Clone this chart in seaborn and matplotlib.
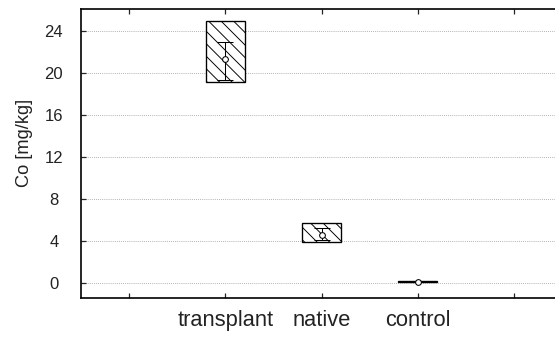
import matplotlib
matplotlib.use("Agg")
import matplotlib.pyplot as plt
import seaborn as sns
import pandas as pd

# box = range, whiskers + circle = mean and spread
groups = ["transplant", "native", "control"]
box_low = [19.1, 3.9, 0.05]
box_high = [25.0, 5.7, 0.15]
means = [21.3, 4.6, 0.1]
whisker_low = [19.3, 4.1, 0.08]
whisker_high = [23.0, 5.2, 0.12]
yticks = [0, 4, 8, 12, 16, 20, 24]

sns.set_theme(style="white")
plt.rcParams["font.family"] = ["Liberation Sans", "DejaVu Sans"]
plt.rcParams["hatch.linewidth"] = 0.9

df = pd.DataFrame({
    "group": groups,
    "height": [h - l for h, l in zip(box_high, box_low)],
})

# dpi 75 so the hatch spacing matches the reference
fig = plt.figure(figsize=(555 / 75, 340 / 75), dpi=75)
ax = fig.add_axes([81 / 555, 42 / 340, 481 / 555, 289 / 340])

sns.barplot(data=df, x="group", y="height", bottom=box_low, width=0.4,
            color="white", edgecolor="black", linewidth=1.3, hatch="\\\\",
            errorbar=None, ax=ax, zorder=3)

err = [[m - l for m, l in zip(means, whisker_low)],
       [h - m for m, h in zip(means, whisker_high)]]
ax.errorbar(range(len(groups)), means, yerr=err, fmt="o", mfc="white",
            mec="black", ms=5.5, mew=1, ecolor="black", elinewidth=1,
            capsize=8, capthick=1, zorder=4)

ax.set_xlim(-1.5, 3.5)
ax.set_xticks([-1, 0, 1, 2, 3])
ax.set_xticklabels([""] + groups + [""])
ax.set_ylim(-1.43, 26.1)
ax.set_yticks(yticks)

ax.yaxis.grid(True, linestyle=(0, (1, 1.5)), color="#9a9a9a", linewidth=0.8)
ax.xaxis.grid(False)
ax.set_axisbelow(True)

for s in ax.spines.values():
    s.set_linewidth(1.6)
    s.set_color("black")

ax.tick_params(axis="y", direction="in", length=5, width=1.2, left=True,
               labelsize=16, pad=26, labelcolor="#222")
for lbl in ax.get_yticklabels():
    lbl.set_ha("center")
ax.tick_params(axis="x", direction="in", length=5, width=1.2, bottom=True,
               top=True, labelsize=21, pad=11.5, labelcolor="#222")

ax.set_xlabel("")
ax.set_ylabel("Co [mg/kg]", fontsize=17.5, color="#222")
ax.yaxis.set_label_coords((33 - 81) / 481, (298 - 143) / 289)

fig.savefig("out.png", dpi=75)
